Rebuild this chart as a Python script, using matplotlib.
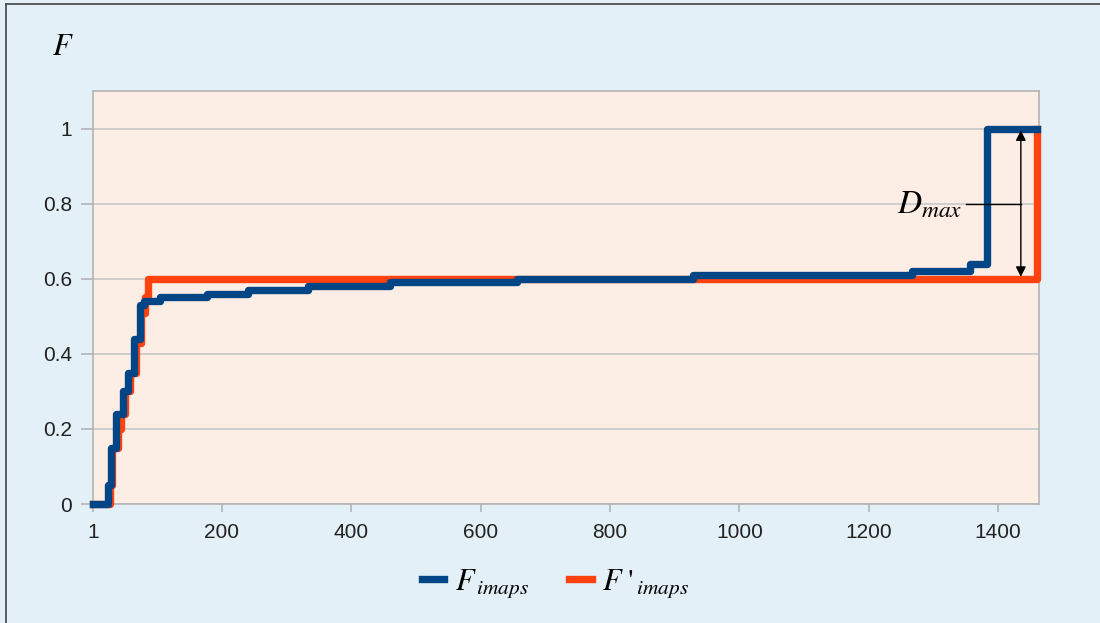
import matplotlib.pyplot as plt
from matplotlib.lines import Line2D

plt.rcParams['font.family'] = ['Liberation Sans', 'DejaVu Sans']
plt.rcParams['mathtext.fontset'] = 'stix'

# step data (x = sample index, y = cumulative F)
blue_x = [1, 25, 29, 37, 47, 55, 64, 73, 80, 105, 177, 241, 333, 460, 656, 928, 1267, 1356, 1382, 1460]
blue_y = [0, 0.05, 0.15, 0.24, 0.30, 0.35, 0.44, 0.53, 0.54, 0.55, 0.56, 0.57, 0.58, 0.59, 0.60, 0.61, 0.62, 0.64, 1.0, 1.0]

orange_x = [1, 27, 31, 40, 45, 50, 58, 67, 75, 81, 86, 1460]
orange_y = [0, 0.05, 0.15, 0.20, 0.24, 0.30, 0.35, 0.43, 0.51, 0.55, 0.60, 1.0]

xticks = [1, 200, 400, 600, 800, 1000, 1200, 1400]
yticks = [0, 0.2, 0.4, 0.6, 0.8, 1]
ytick_labels = ["0", "0.2", "0.4", "0.6", "0.8", "1"]

blue = "#004586"
orange = "#ff420e"

fig = plt.figure(figsize=(11, 6.23), dpi=100, facecolor="#e3f0f7")
ax = fig.add_axes([0.0845, 0.191, 0.86, 0.663])
ax.set_facecolor("#fdeee5")

ax.plot(orange_x, orange_y, drawstyle="steps-post", color=orange, lw=5.3, clip_on=False, zorder=3)
ax.plot(blue_x, blue_y, drawstyle="steps-post", color=blue, lw=5.3, clip_on=False, zorder=4)

ax.set_xlim(1, 1463)
ax.set_ylim(0, 1.1)
ax.set_xticks(xticks)
ax.set_xticklabels([str(t) for t in xticks])
ax.set_yticks(yticks)
ax.set_yticklabels(ytick_labels)
ax.grid(axis="y", color="#c8c8c8", lw=1.2)
ax.set_axisbelow(True)
ax.tick_params(axis="both", labelsize=15, colors="#b3b3b3", labelcolor="#222222", width=1.2)
ax.tick_params(axis="y", length=9, pad=6)
ax.tick_params(axis="x", length=6, pad=8)
for s in ax.spines.values():
    s.set_color("#b3b3b3")
    s.set_linewidth(1.2)

# D_max annotation
ax.annotate("", xy=(1435, 0.995), xytext=(1435, 0.605),
            arrowprops=dict(arrowstyle="<|-|>", color="black", lw=1, mutation_scale=15, shrinkA=0, shrinkB=0),
            zorder=5)
ax.plot([1351, 1435], [0.8, 0.8], color="black", lw=1, zorder=5)
ax.text(1345, 0.795, r"$D_{max}$", fontsize=24, ha="right", va="center", zorder=5)

fig.text(0.057, 0.925, r"$F$", fontsize=22, ha="center", va="center")

handles = [Line2D([], [], color=blue, lw=5.3), Line2D([], [], color=orange, lw=5.3)]
fig.legend(handles, [r"$F_{\,imaps}$", r"$F\ '_{\,imaps}$"], loc="center", bbox_to_anchor=(0.505, 0.063),
           ncol=2, frameon=False, fontsize=22, handlelength=0.75, handletextpad=0.35, columnspacing=1.3)

# frame lines at top and left edges
fig.add_artist(Line2D([0.005, 1], [0.994, 0.994], color="#444444", lw=1.2, transform=fig.transFigure))
fig.add_artist(Line2D([0.0055, 0.0055], [0, 0.994], color="#444444", lw=1.2, transform=fig.transFigure))

fig.savefig("out.png", dpi=100, facecolor=fig.get_facecolor())
